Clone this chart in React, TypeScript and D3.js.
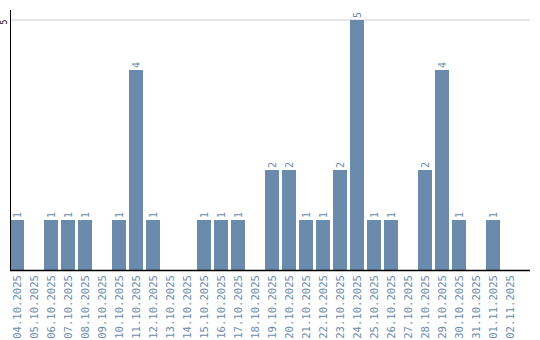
import React from "react";
import * as d3 from "d3";

const dates = [
  "04.10.2025","05.10.2025","06.10.2025","07.10.2025","08.10.2025","09.10.2025",
  "10.10.2025","11.10.2025","12.10.2025","13.10.2025","14.10.2025","15.10.2025",
  "16.10.2025","17.10.2025","18.10.2025","19.10.2025","20.10.2025","21.10.2025",
  "22.10.2025","23.10.2025","24.10.2025","25.10.2025","26.10.2025","27.10.2025",
  "28.10.2025","29.10.2025","30.10.2025","31.10.2025","01.11.2025","02.11.2025",
];
const counts = [1,0,1,1,1,0,1,4,1,0,0,1,1,1,0,2,2,1,1,2,5,1,1,0,2,4,1,0,1,0];
const yTicks = [5];

const W = 540, H = 340;
const left = 10, bottom = 270, top = 10;
const color = "#6a8bab";

export default function App() {
  const x = d3.scaleBand<string>().domain(dates).range([left, 517]).paddingInner(3 / 17).paddingOuter(0);
  const y = d3.scaleLinear().domain([0, 5.2]).range([bottom, top]);
  const font = "'DejaVu Sans Mono', monospace";
  return (
    <svg width={W} height={H} style={{ position: "absolute", left: 0, top: 0 }}>
      {yTicks.map((t) => (
        <g key={t}>
          <line x1={left} x2={530} y1={y(t)} y2={y(t)} stroke="#cccccc" />
          <text transform={`translate(7,${y(t) + 2}) rotate(-90)`} textAnchor="middle" fontFamily={font} fontSize={8} fill="#000">{t}</text>
        </g>
      ))}
      {dates.map((d, i) =>
        counts[i] > 0 ? (
          <g key={d}>
            <rect x={x(d)} y={y(counts[i])} width={x.bandwidth()} height={bottom - y(counts[i])} fill={color} />
            <text transform={`translate(${(x(d) as number) + x.bandwidth() / 2 + 3.5},${y(counts[i]) - 2}) rotate(-90)`} fontFamily={font} fontSize={10} fill={color}>{counts[i]}</text>
          </g>
        ) : null
      )}
      <line x1={left + 0.5} x2={left + 0.5} y1={top} y2={bottom} stroke="#000" />
      <line x1={left} x2={530} y1={bottom + 0.5} y2={bottom + 0.5} stroke="#000" strokeWidth={1.5} />
      {dates.map((d) => (
        <text key={d} transform={`translate(${(x(d) as number) + x.bandwidth() / 2 + 3.7},${bottom + 5}) rotate(-90)`} textAnchor="end" fontFamily={font} fontSize={10.6} fill={color}>{d}</text>
      ))}
    </svg>
  );
}
